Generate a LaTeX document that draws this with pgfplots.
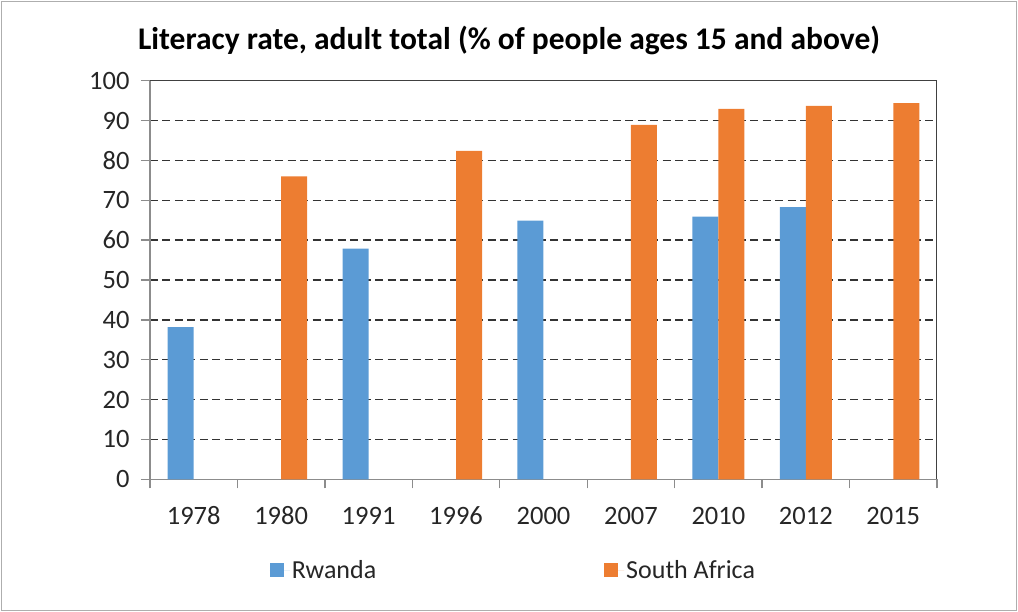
\documentclass[border=0pt]{standalone}
\usepackage{pgfplots}
\pgfplotsset{compat=1.18}
\usepackage{fontspec}
\setmainfont{Carlito}
\definecolor{rw}{HTML}{5B9BD5}
\definecolor{sa}{HTML}{ED7D31}
\definecolor{axgray}{HTML}{8C8C8C}
\definecolor{txt}{HTML}{262626}
\begin{document}
\begin{tikzpicture}
\useasboundingbox (-150pt,-132.7pt) rectangle ++(1018pt,612pt);
\draw[axgray!70, line width=1.5pt] (-148.5pt,-131.2pt) rectangle ++(1015pt,609pt);
\begin{axis}[
    ybar=0pt,
    bar width=26pt,
    scale only axis,
    width=787pt, height=398.6pt,
    xmin=-0.5, xmax=8.5,
    ymin=0, ymax=100,
    ytick={0,10,...,100},
    xtick={-0.5,0.5,...,8.5},
    xticklabels={1978,1980,1991,1996,2000,2007,2010,2012,2015},
    x tick label as interval,
    axis lines=left,
    axis line style={-, draw=axgray, line width=1.3pt},
    tick style={draw=axgray, line width=1.3pt},
    tick align=outside,
    major tick length=9pt,
    ymajorgrids,
    major grid style={draw=black!80, line width=1.3pt, dash pattern=on 8pt off 4.5pt},
    tick label style={font=\fontsize{26.5}{31}\selectfont, text=txt},
    yticklabel style={xshift=-8pt},
    xticklabel style={yshift=-15pt},
    /pgf/number format/assume math mode=true,
    legend columns=2,
    legend style={at={(0.4619,-0.2276)}, anchor=center, draw=none,
        font=\fontsize{26}{31}\selectfont, text=txt,
        /tikz/every even column/.append style={column sep=226pt}},
    legend image code/.code={\fill[#1] (0pt,-7pt) rectangle (14pt,7pt);
        \path (0pt,0pt) -- (20pt,0pt);},
]
\addplot[fill=rw, draw=none] coordinates {
    (0,38.2) (2,57.9) (4,64.9) (6,65.9) (7,68.3)
};
\addlegendentry{Rwanda}
\addplot[fill=sa, draw=none] coordinates {
    (1,76.0) (3,82.4) (5,88.9) (6,92.9) (7,93.7) (8,94.4)
};
\addlegendentry{South Africa}
\draw[draw=black!75, line width=1.5pt] (rel axis cs:0,1) -- (rel axis cs:1,1) -- (rel axis cs:1,0);
\end{axis}
\node[anchor=base, font=\fontsize{31.5}{37}\selectfont\bfseries] at (359pt,429.3pt)
    {Literacy rate, adult total (\% of people ages 15 and above)};
\end{tikzpicture}
\end{document}
